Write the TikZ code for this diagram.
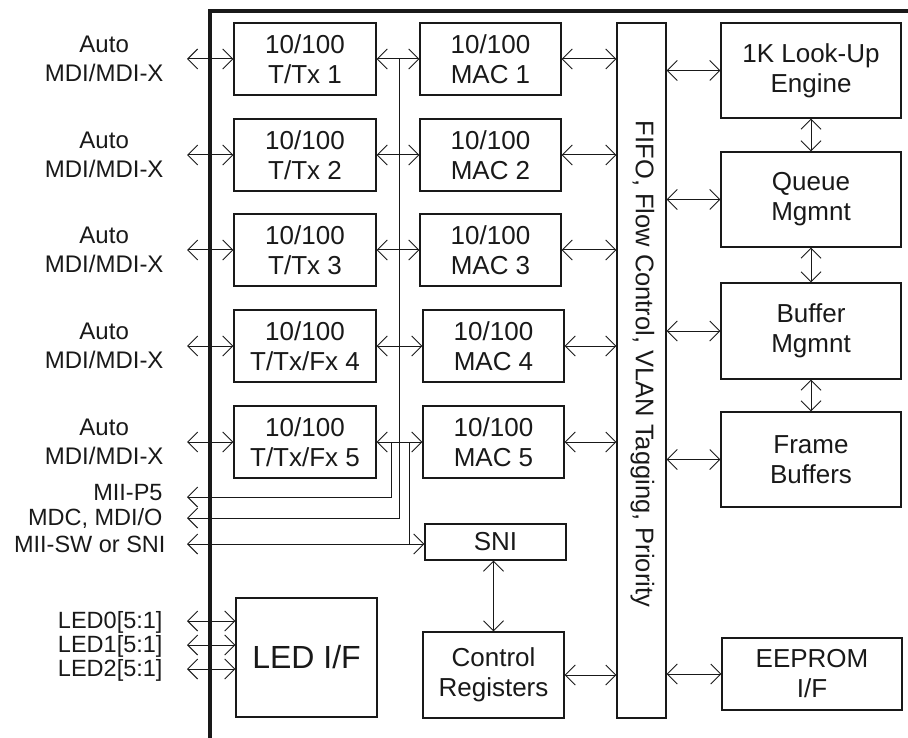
\documentclass[tikz,border=0pt]{standalone}
\usepackage{fontspec}
\setmainfont{Liberation Sans}
\usetikzlibrary{arrows.meta}
\begin{document}
\begin{tikzpicture}[x=1pt,y=-1pt,
  line width=1pt, draw=black!90,
  tip/.tip={Straight Barb[length=10pt,width=20pt,line width=1pt]},
  link/.style={draw, tip-tip},
  lnk/.style={draw, tip-},
  box/.style={draw, line width=1.1pt, inner sep=0pt, align=center,
    font=\fontsize{26}{30}\selectfont, text=black!90},
  lbl/.style={anchor=east, align=center, inner sep=0pt,
    font=\fontsize{24}{29}\selectfont, text=black!90},
  slbl/.style={lbl, font=\fontsize{23.5}{26}\selectfont, text height=16pt, text depth=2pt}]
\useasboundingbox (0,0) rectangle (908,738);
% chip border
\draw[line width=4pt, miter limit=10] (210,738) -- (210,11) -- (908,11);
% PHY boxes
\foreach \i/\y/\t in {1/59/{T/Tx 1},2/155/{T/Tx 2},3/250/{T/Tx 3},4/346/{T/Tx/Fx 4},5/442/{T/Tx/Fx 5}}{
  \node[box, minimum width=142pt, minimum height=72pt] (tx\i) at (305,\y) {10/100\\\t};
  \coordinate (e\i) at (187,\y);
  \node[lbl] (l\i) at (164,\y) {Auto\\MDI/MDI-X};
}
\foreach \i/\y/\x in {1/59/490.5,2/155/490.5,3/250/490.5,4/346/493.5,5/442/493.5}{
  \node[box, minimum width=141pt, minimum height=72pt] (mac\i) at (\x,\y) {10/100\\MAC \i};
}
\node[box, minimum width=49pt, minimum height=695pt] (fifo) at (641.5,370.5) {};
\node[font=\fontsize{25.5}{29}\selectfont, text=black!90, rotate=-90] (fifot) at (642.5,364) {FIFO, Flow Control, VLAN Tagging, Priority};
\node[box, minimum width=180pt, minimum height=95pt] (lk) at (811,70.5) {1K Look-Up\\Engine};
\node[box, minimum width=180pt, minimum height=95pt] (qm) at (811,199.5) {Queue\\Mgmnt};
\node[box, minimum width=180pt, minimum height=96pt] (bm) at (811,331) {Buffer\\Mgmnt};
\node[box, minimum width=180pt, minimum height=95pt] (fb) at (811,459.5) {Frame\\Buffers};
\node[box, minimum width=180pt, minimum height=72pt] (ee) at (812,674) {EEPROM\\I/F};
\node[box, minimum width=141pt, minimum height=36pt] (sni) at (495.5,542) {SNI};
\node[box, minimum width=141pt, minimum height=86pt] (ctl) at (493.5,675) {Control\\Registers};
\node[box, minimum width=141pt, minimum height=119pt, font=\fontsize{32}{36}\selectfont] (led) at (306.5,657.5) {LED I/F};
% PHY / MAC connections
\foreach \i in {1,...,5}{
  \draw[link] (e\i) -- (tx\i.west);
  \draw[link] (tx\i.east) -- (mac\i.west);
  \draw[link] (mac\i.east) -- (mac\i.east -| fifo.west);
}
% right side
\foreach \b in {lk,qm,bm,fb,ee}{
  \draw[link] (fifo.east |- \b.west) -- (\b.west);
}
\draw[link] (lk.south) -- (qm.north);
\draw[link] (qm.south) -- (bm.north);
\draw[link] (bm.south) -- (fb.north);
\draw[link] (ctl.east) -- (ctl.east -| fifo.west);
\draw[link] (ctl.north |- sni.south) -- (ctl.north);
% buses
\coordinate (p5) at (187,497);
\coordinate (mdc) at (187,518);
\coordinate (msw) at (187,544);
\draw[lnk] (p5) -- (391,497) -- (391,442);
\draw[lnk] (mdc) -- (399,518) -- (399,59);
\draw (409,442) -- (409,544);
\draw[link] (msw) -- (msw -| sni.west);
\node[slbl] (lp5) at (163,493) {MII-P5};
\node[slbl] (lmdc) at (163,518.5) {MDC, MDI/O};
\node[slbl] (lmsw) at (166,545) {MII-SW or SNI};
% LEDs
\foreach \j/\y in {0/621,1/645,2/669}{
  \coordinate (d\j) at (187,\y);
  \draw[link] (d\j) -- (d\j -| led.west);
  \node[slbl] (ld\j) at (163,\y) {LED\j[5:1]};
}
\end{tikzpicture}
\end{document}
